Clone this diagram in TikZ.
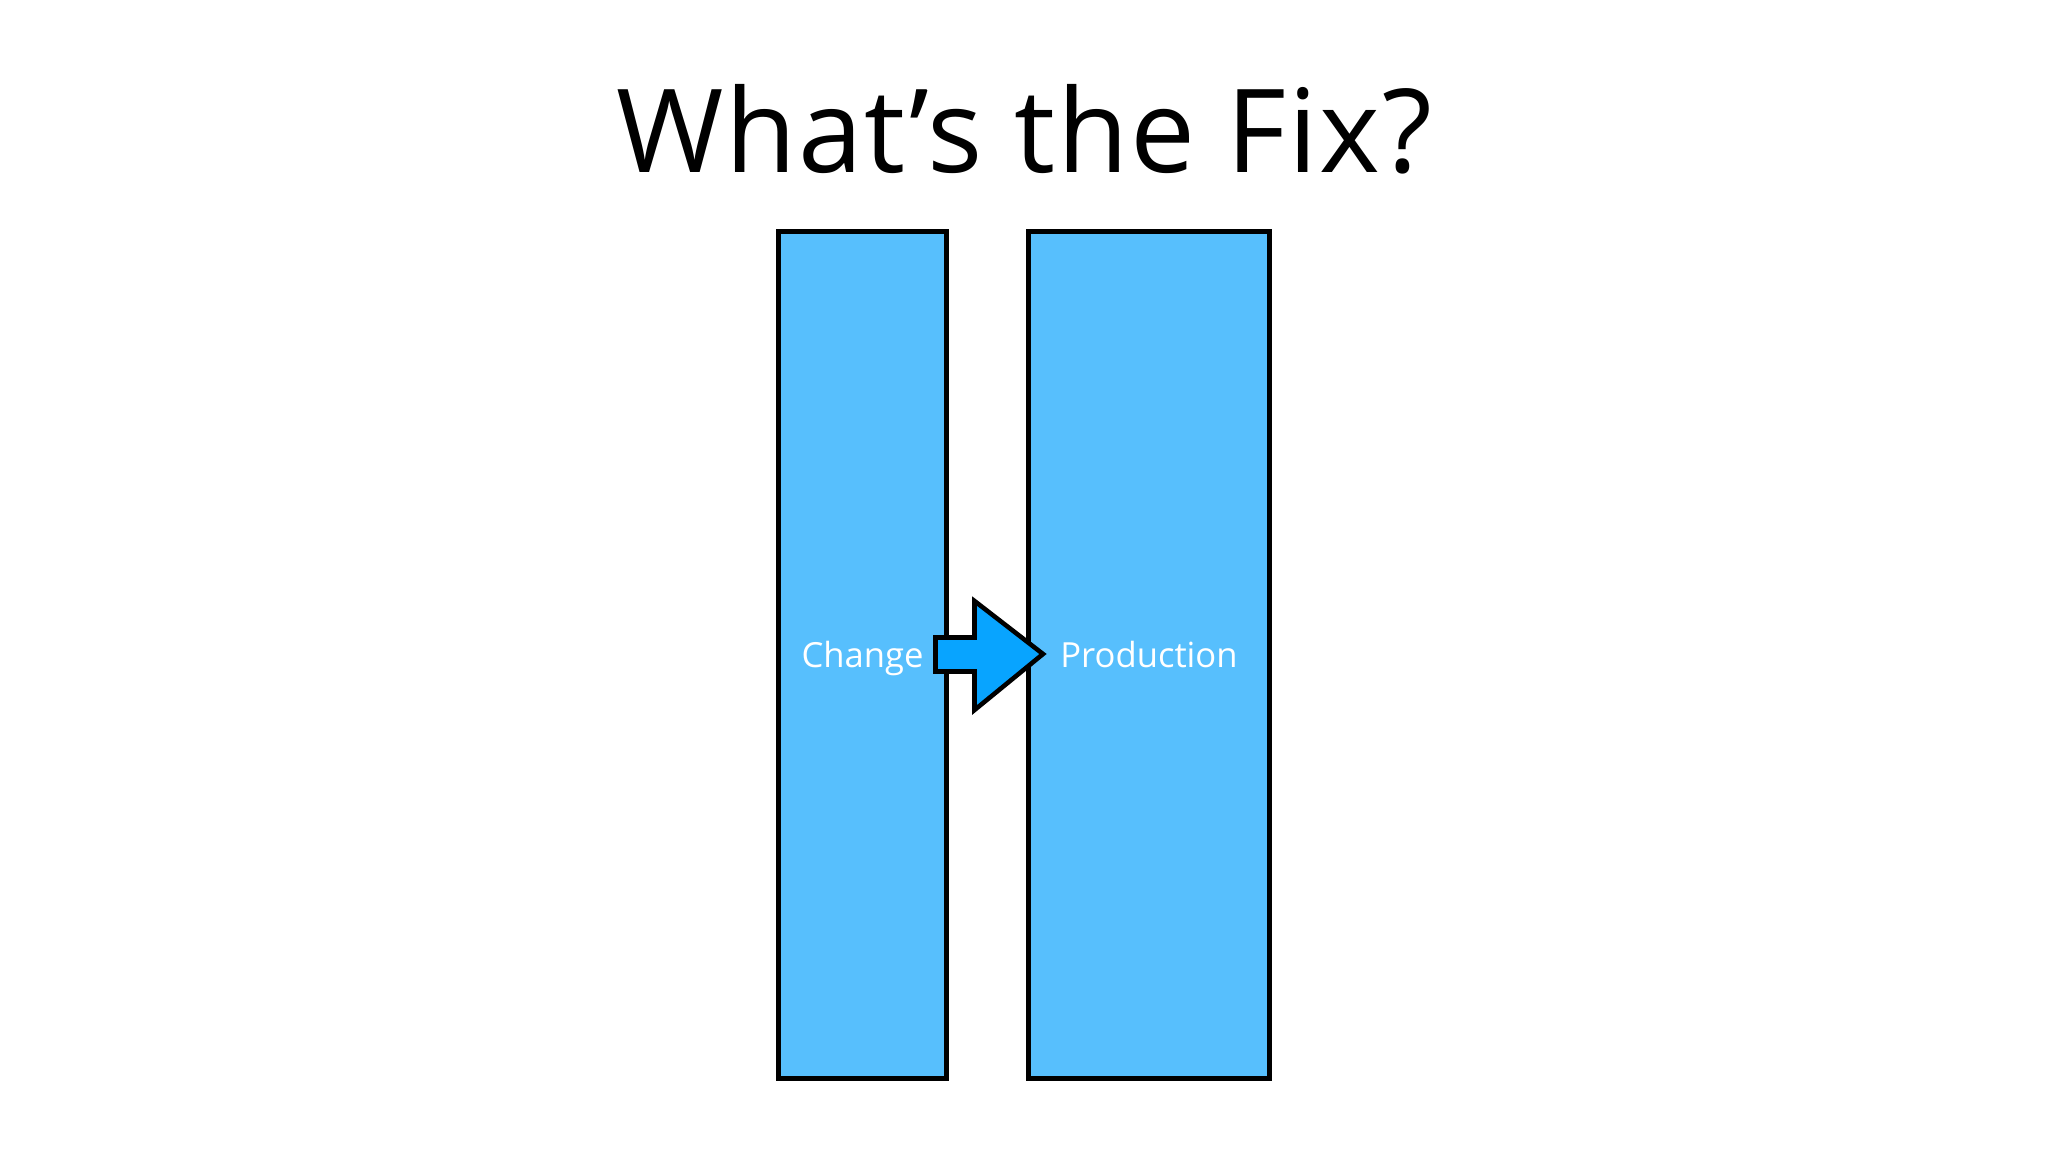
\documentclass[tikz,border=0pt]{standalone}
\usepackage{fontspec}
\setmainfont{Open Sans}
\newfontfamily\titlefont[LetterSpace=1.5]{Open Sans}
\definecolor{boxblue}{RGB}{87,191,253}
\definecolor{arrowblue}{RGB}{8,164,255}
\begin{document}
\begin{tikzpicture}[x=0.02cm,y=-0.02cm,
  panel/.style={draw=black,fill=boxblue,line width=2.8pt},
  label/.style={text=white,font=\fontsize{19.7}{23}\selectfont,inner sep=0pt,anchor=base},
  blockarrow/.style={draw=black,fill=arrowblue,line width=2.6pt,line join=miter}]
\fill[white] (0,0) rectangle (2048,1152);
\useasboundingbox (0,0) rectangle (2048,1152);
\node[anchor=base,inner sep=0pt,font=\titlefont\fontsize{66}{80}\selectfont] (title) at (1024,173) {What’s the Fix?};
\draw[panel] (778.5,231.5) rectangle (946.5,1078.5);
\draw[panel] (1028.5,231.5) rectangle (1269.5,1078.5);
\coordinate (changec) at (862.5,667);
\coordinate (prodc) at (1149,667);
\draw[blockarrow] (935.5,637.5) -- (974.5,637.5) -- (974.5,601) -- (1043,654) -- (974.5,710) -- (974.5,671.5) -- (935.5,671.5) -- cycle;
\node[label] (change) at (changec) {Change};
\node[label] (prod) at (prodc) {Production};
\end{tikzpicture}
\end{document}
